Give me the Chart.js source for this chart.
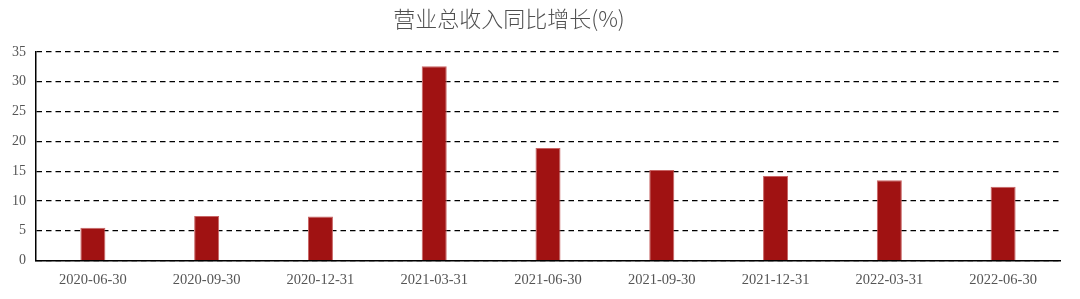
<!DOCTYPE html>
<html>
<head>
<meta charset="utf-8">
<script src="https://cdn.jsdelivr.net/npm/chart.js@4/dist/chart.umd.min.js"></script>
<style>
  html, body { margin: 0; padding: 0; background: #fff; }
  #wrap { width: 1080px; height: 299px; }
</style>
</head>
<body>
<div id="wrap"><canvas id="chart"></canvas></div>
<script>
// Data
var categories = ['2020-06-30', '2020-09-30', '2020-12-31', '2021-03-31', '2021-06-30',
                  '2021-09-30', '2021-12-31', '2022-03-31', '2022-06-30'];
var growth = [5.5, 7.5, 7.4, 32.6, 18.9, 15.2, 14.2, 13.5, 12.4];
var titleText = '营业总收入同比增长(%)';

var ctx = document.getElementById('chart').getContext('2d');

// title is drawn by hand: in the reference it sits left of the plot centre
var titlePlugin = {
  id: 'offsetTitle',
  afterDraw: function (chart) {
    var c = chart.ctx;
    c.save();
    c.font = '300 22px "Noto Sans CJK SC", sans-serif';
    c.fillStyle = '#505050';
    c.textAlign = 'center';
    c.textBaseline = 'middle';
    c.fillText(titleText, 509, 19);
    c.restore();
  }
};

new Chart(ctx, {
  type: 'bar',
  data: {
    labels: categories,
    datasets: [{
      label: titleText,
      data: growth,
      backgroundColor: '#a01212',
      borderColor: '#c86464',
      borderWidth: { top: 1, left: 1, right: 1, bottom: 0 },
      barPercentage: 0.22,
      categoryPercentage: 1
    }]
  },
  options: {
    responsive: true,
    maintainAspectRatio: false,
    animation: false,
    layout: { padding: { left: 2, right: 20, top: 52, bottom: -1 } },
    plugins: {
      legend: { display: false },
      tooltip: { enabled: false },
      title: { display: false }
    },
    scales: {
      x: {
        grid: { display: false, drawTicks: false },
        border: { display: true, color: '#000', width: 1.5 },
        ticks: {
          color: '#555',
          font: { family: '"Liberation Serif", "DejaVu Serif", serif', size: 14.5 },
          padding: 11,
          maxRotation: 0
        }
      },
      y: {
        min: 0,
        max: 35,
        grid: { color: '#000', lineWidth: 1.3, drawTicks: false },
        border: { display: true, color: '#000', width: 1.5, dash: [5.5, 4] },
        ticks: {
          stepSize: 5,
          color: '#555',
          font: { family: '"Liberation Serif", "DejaVu Serif", serif', size: 14 },
          padding: 10
        }
      }
    }
  },
  plugins: [titlePlugin]
});
</script>
</body>
</html>
